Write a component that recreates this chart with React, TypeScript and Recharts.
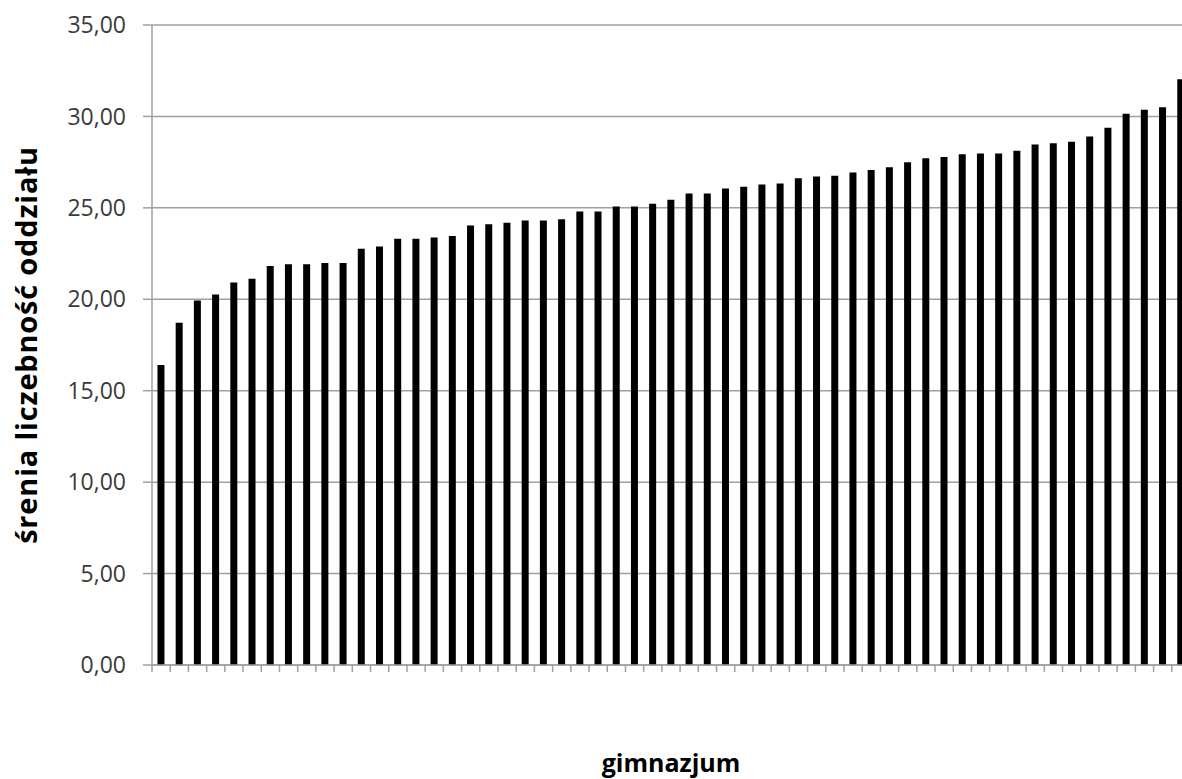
import { BarChart, Bar, XAxis, YAxis, CartesianGrid, Label } from "recharts";

// gimnazja (schools) sorted by average class size
const schools = [
  "1", "2", "3", "4", "5", "6", "7", "8", "9", "10",
  "11", "12", "13", "14", "15", "16", "17", "18", "19", "20",
  "21", "22", "23", "24", "25", "26", "27", "28", "29", "30",
  "31", "32", "33", "34", "35", "36", "37", "38", "39", "40",
  "41", "42", "43", "44", "45", "46", "47", "48", "49", "50",
  "51", "52", "53", "54", "55", "56", "57",
];

const avgClassSize = [
  16.4, 18.71, 19.94, 20.26, 20.92, 21.12, 21.82, 21.91, 21.91, 21.99,
  21.99, 22.76, 22.89, 23.31, 23.31, 23.38, 23.46, 24.03, 24.1, 24.19,
  24.31, 24.31, 24.38, 24.8, 24.8, 25.07, 25.07, 25.22, 25.44, 25.79,
  25.79, 26.06, 26.15, 26.28, 26.33, 26.62, 26.72, 26.75, 26.94, 27.07,
  27.22, 27.5, 27.71, 27.78, 27.93, 27.97, 27.97, 28.12, 28.47, 28.53,
  28.62, 28.9, 29.38, 30.15, 30.37, 30.5, 32.03,
];

const yTicks = [0, 5, 10, 15, 20, 25, 30, 35];

const data = schools.map((s, i) => ({ name: s, value: avgClassSize[i] }));

const gray = "#a0a0a0";
const fmt = (v: number) => v.toFixed(2).replace(".", ",");

const CHART_W = 1190;
const Y_AXIS_W = 152;
const halfBand = (CHART_W - Y_AXIS_W) / schools.length / 2;

// tick marks sit on the boundaries between categories, as in Excel
const BoundaryTick = ({ x, y }: any) => (
  <line x1={x - halfBand} x2={x - halfBand} y1={y} y2={y + 7} stroke={gray} strokeWidth={1.5} />
);

export default function App() {
  return (
    <div style={{ position: "absolute", left: 0, top: 0, width: 1182, height: 779, overflow: "hidden", background: "#fff" }}>
      <BarChart
        width={CHART_W}
        height={779}
        data={data}
        margin={{ top: 25, right: 0, left: 0, bottom: 0 }}
        barCategoryGap="30%"
      >
        <CartesianGrid horizontal vertical={false} stroke={gray} strokeWidth={1.5} />
        <XAxis
          dataKey="name"
          height={114}
          interval={0}
          axisLine={{ stroke: gray, strokeWidth: 1.5 }}
          tickLine={false}
          tickSize={0}
          tickMargin={0}
          tick={<BoundaryTick />}
        >
          <Label
            value="gimnazjum"
            position="insideBottom"
            offset={7}
            style={{ fontFamily: "Open Sans", fontWeight: 700, fontSize: 25, fill: "#000" }}
          />
        </XAxis>
        <YAxis
          domain={[0, 35]}
          ticks={yTicks}
          width={Y_AXIS_W}
          tickFormatter={fmt}
          axisLine={{ stroke: gray, strokeWidth: 1.5 }}
          tickLine={{ stroke: gray, strokeWidth: 1.5 }}
          tickSize={9}
          tickMargin={17}
          tick={{ fontFamily: "Open Sans", fontSize: 23, fill: "#3a3a3a" }}
        >
          <Label
            content={({ viewBox }: any) => {
              const cy = viewBox.y + viewBox.height / 2;
              return (
                <text
                  x={37}
                  y={cy}
                  transform={`rotate(-90, 37, ${cy})`}
                  textAnchor="middle"
                  style={{ fontFamily: "Open Sans", fontWeight: 700, fontSize: 29, letterSpacing: 0.8, fill: "#000" }}
                >
                  śrenia liczebność oddziału
                </text>
              );
            }}
          />
        </YAxis>
        <Bar dataKey="value" fill="#000" isAnimationActive={false} />
      </BarChart>
    </div>
  );
}
